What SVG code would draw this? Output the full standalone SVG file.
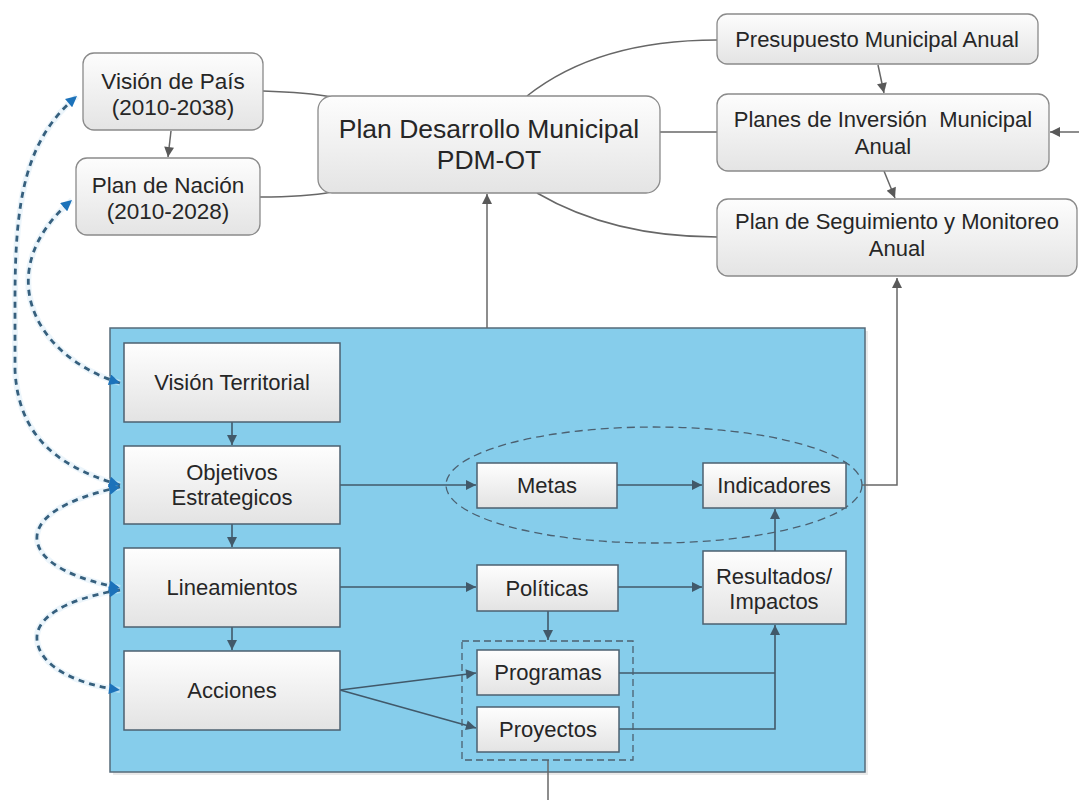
<svg xmlns="http://www.w3.org/2000/svg" width="1079" height="800" viewBox="0 0 1079 800">
<style>
text{font-family:"Liberation Sans",Arial,sans-serif;fill:#262626;text-anchor:middle}
.t22{font-size:22.5px}
.t21{font-size:22px}
.t26{font-size:26.5px}
.top{fill:url(#gTop);stroke:#8a8a8a;stroke-width:1.3}
.inn{fill:url(#gIn);stroke:#4c6070;stroke-width:1.5}
.gc{fill:none;stroke:#676767;stroke-width:1.5}
.ic{fill:none;stroke:#41596a;stroke-width:1.6}
.bd{fill:none;stroke:#36607e;stroke-width:2.8;stroke-dasharray:6 5}
.glow{fill:none;stroke:#dcedf7;stroke-width:6;opacity:.55}
.grp{fill:none;stroke:#4c6070;stroke-width:1.3;stroke-dasharray:7 4}
</style>
<defs>
<linearGradient id="gTop" x1="0" y1="0" x2="0" y2="1">
<stop offset="0" stop-color="#fdfdfd"/><stop offset="1" stop-color="#e4e4e4"/>
</linearGradient>
<linearGradient id="gIn" x1="0" y1="0" x2="0" y2="1">
<stop offset="0" stop-color="#fefefe"/><stop offset="1" stop-color="#e3e3e3"/>
</linearGradient>
<marker id="aG" viewBox="0 0 10 10" refX="10" refY="5" markerWidth="11" markerHeight="10" markerUnits="userSpaceOnUse" orient="auto">
<path d="M0,0 L10,5 L0,10 z" fill="#595959"/>
</marker>
<marker id="aI" viewBox="0 0 10 10" refX="10" refY="5" markerWidth="12" markerHeight="10" markerUnits="userSpaceOnUse" orient="auto">
<path d="M0,0 L10,5 L0,10 z" fill="#41596a"/>
</marker>
<marker id="aB" viewBox="0 0 10 10" refX="10" refY="5" markerWidth="12" markerHeight="11" markerUnits="userSpaceOnUse" orient="auto-start-reverse">
<path d="M0,0 L10,5 L0,10 z" fill="#1c72ba"/>
</marker>
</defs>

<rect width="1079" height="800" fill="#ffffff"/>

<g id="panel">
<rect x="113" y="331" width="755" height="444" fill="#dcdcdc" opacity="0.6"/>
<rect x="110" y="328" width="755" height="444" fill="#86cdeb" stroke="#566b7a" stroke-width="1.5"/>
</g>

<g id="connectors">
<path class="gc" d="M171,131 L168,157" marker-end="url(#aG)"/>
<path class="gc" d="M263,91 C292,92 316,94 332,97"/>
<path class="gc" d="M260,197 C292,197 316,195 332,192"/>
<path class="gc" d="M527,96 C575,58 640,40 717,40"/>
<path class="gc" d="M660,132 L717,132"/>
<path class="gc" d="M537,193 C590,224 650,237 717,237"/>
<path class="gc" d="M878,65 L884,93" marker-end="url(#aG)"/>
<path class="gc" d="M884,171 L895,198" marker-end="url(#aG)"/>
<path class="gc" d="M1079,132 L1050,132" marker-end="url(#aG)"/>
<path class="gc" d="M487,328 L487,194" marker-end="url(#aG)"/>
<path class="gc" d="M862,485 L897,485 L897,278" marker-end="url(#aG)"/>
<path class="ic" d="M232,422 L232,445" marker-end="url(#aI)"/>
<path class="ic" d="M232,524 L232,547" marker-end="url(#aI)"/>
<path class="ic" d="M232,627 L232,650" marker-end="url(#aI)"/>
<path class="ic" d="M340,485 L476,485" marker-end="url(#aI)"/>
<path class="ic" d="M617,485 L702,485" marker-end="url(#aI)"/>
<path class="ic" d="M340,587 L476,587" marker-end="url(#aI)"/>
<path class="ic" d="M618,587 L702,587" marker-end="url(#aI)"/>
<path class="ic" d="M775,551 L775,509" marker-end="url(#aI)"/>
<path class="ic" d="M548,611 L548,640" marker-end="url(#aI)"/>
<path class="ic" d="M340,690 L476,673" marker-end="url(#aI)"/>
<path class="ic" d="M340,690 L476,728" marker-end="url(#aI)"/>
<path class="ic" d="M619,673 L775,673"/>
<path class="ic" d="M619,729 L775,729 L775,625" marker-end="url(#aI)"/>
<path class="gc" d="M548,760 L548,800"/>
<g>
<path class="glow" d="M120,485 C50,465 18,430 15,370 L15,300 C15,200 25,140 77,96"/>
<path class="glow" d="M120,383 C30,355 -8,268 72,200"/>
<path class="glow" d="M120,487 C60,500 35,520 37,540 C40,565 80,580 120,588"/>
<path class="glow" d="M120,590 C60,600 35,620 37,640 C40,668 80,685 120,690"/>
</g>
<path class="bd" d="M120,485 C50,465 18,430 15,370 L15,300 C15,200 25,140 77,96" marker-start="url(#aB)" marker-end="url(#aB)"/>
<path class="bd" d="M120,383 C30,355 -8,268 72,200" marker-start="url(#aB)" marker-end="url(#aB)"/>
<path class="bd" d="M120,487 C60,500 35,520 37,540 C40,565 80,580 120,588" marker-start="url(#aB)" marker-end="url(#aB)"/>
<path class="bd" d="M120,590 C60,600 35,620 37,640 C40,668 80,685 120,690" marker-start="url(#aB)" marker-end="url(#aB)"/>
</g>

<g id="vision-pais">
<rect class="top" x="83" y="53" width="180" height="77" rx="11"/>
<text class="t22" x="173" y="89">Visión de País</text>
<text class="t22" x="173" y="115">(2010-2038)</text>
</g>
<g id="plan-nacion">
<rect class="top" x="76" y="158" width="184" height="77" rx="11"/>
<text class="t22" x="168" y="193">Plan de Nación</text>
<text class="t22" x="168" y="219">(2010-2028)</text>
</g>
<g id="pdm">
<rect class="top" x="318" y="96" width="342" height="97" rx="14"/>
<text class="t26" x="489" y="138">Plan Desarrollo Municipal</text>
<text class="t26" x="489" y="169">PDM-OT</text>
</g>
<g id="presupuesto">
<rect class="top" x="717" y="14" width="321" height="50" rx="10"/>
<text class="t21" x="877" y="47">Presupuesto Municipal Anual</text>
</g>
<g id="planes-inversion">
<rect class="top" x="717" y="94" width="332" height="77" rx="11"/>
<text class="t21" x="883" y="127" xml:space="preserve">Planes de Inversión  Municipal</text>
<text class="t21" x="883" y="154">Anual</text>
</g>
<g id="seguimiento">
<rect class="top" x="717" y="199" width="360" height="77" rx="11"/>
<text class="t21" x="897" y="229">Plan de Seguimiento y Monitoreo</text>
<text class="t21" x="897" y="256">Anual</text>
</g>

<g id="vision-territorial">
<rect class="inn" x="124" y="343" width="216" height="79"/>
<text class="t21" x="232" y="390">Visión Territorial</text>
</g>
<g id="objetivos">
<rect class="inn" x="124" y="446" width="216" height="78"/>
<text class="t21" x="232" y="480">Objetivos</text>
<text class="t21" x="232" y="505">Estrategicos</text>
</g>
<g id="lineamientos">
<rect class="inn" x="124" y="548" width="216" height="79"/>
<text class="t21" x="232" y="595">Lineamientos</text>
</g>
<g id="acciones">
<rect class="inn" x="124" y="651" width="216" height="79"/>
<text class="t21" x="232" y="698">Acciones</text>
</g>
<g id="metas-indicadores-group">
<ellipse cx="654" cy="485" rx="208" ry="58" fill="none" stroke="#4c6070" stroke-width="1.3" stroke-dasharray="8 5"/>
</g>
<g id="metas">
<rect class="inn" x="477" y="463" width="140" height="45"/>
<text class="t21" x="547" y="493">Metas</text>
</g>
<g id="indicadores">
<rect class="inn" x="703" y="463" width="143" height="45"/>
<text class="t21" x="774" y="493">Indicadores</text>
</g>
<g id="politicas">
<rect class="inn" x="477" y="565" width="141" height="46"/>
<text class="t21" x="547" y="596">Políticas</text>
</g>
<g id="resultados">
<rect class="inn" x="703" y="551" width="143" height="73"/>
<text class="t21" x="774" y="584">Resultados/</text>
<text class="t21" x="774" y="609">Impactos</text>
</g>
<g id="programas-proyectos-group">
<rect class="grp" x="462" y="641" width="171" height="119"/>
</g>
<g id="programas">
<rect class="inn" x="477" y="650" width="142" height="45"/>
<text class="t21" x="548" y="680">Programas</text>
</g>
<g id="proyectos">
<rect class="inn" x="477" y="707" width="142" height="45"/>
<text class="t21" x="548" y="737">Proyectos</text>
</g>
</svg>
